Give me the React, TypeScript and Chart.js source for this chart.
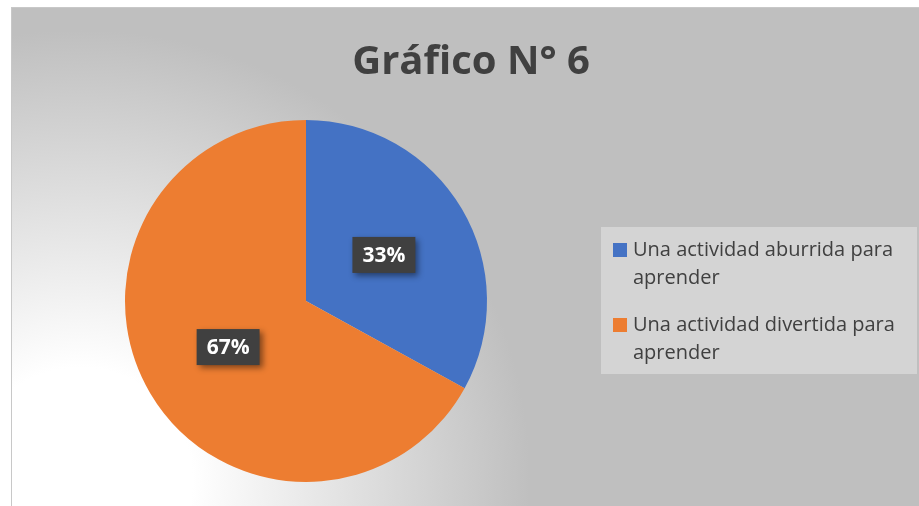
import React, { useEffect, useRef } from "react";
import { Chart, registerables } from "chart.js";

Chart.register(...registerables);

const title = "Gráfico N° 6";
const categories = ["Una actividad aburrida para aprender", "Una actividad divertida para aprender"];
const legendLines = [["Una actividad aburrida para", "aprender"], ["Una actividad divertida para", "aprender"]];
const values = [33, 67];
const valueLabels = ["33%", "67%"];
const colors = ["#4472C4", "#ED7D31"];

const W = 919;
const H = 506;

const bgPlugin = {
  id: "bgPlugin",
  beforeDraw(chart: any) {
    const ctx = chart.ctx;
    ctx.save();
    ctx.fillStyle = "#ffffff";
    ctx.fillRect(0, 0, W, H);
    const g = ctx.createRadialGradient(80, 480, 0, 80, 480, 450);
    g.addColorStop(0, "#ffffff");
    g.addColorStop(0.25, "#ffffff");
    g.addColorStop(1, "#bfbfbf");
    ctx.fillStyle = g;
    ctx.fillRect(12, 8, W - 12, H - 8);
    ctx.fillStyle = "#c8c8c8";
    ctx.fillRect(11, 7, W - 11, 1);
    ctx.fillRect(11, 7, 1, H - 7);
    // title
    ctx.fillStyle = "#404040";
    ctx.font = "bold 40px 'Open Sans', sans-serif";
    ctx.textAlign = "center";
    ctx.textBaseline = "alphabetic";
    ctx.fillText(title, 471, 74);
    ctx.restore();
  },
};

const overlayPlugin = {
  id: "overlayPlugin",
  afterDraw(chart: any) {
    const ctx = chart.ctx;
    ctx.save();
    // data labels
    const meta = chart.getDatasetMeta(0);
    meta.data.forEach((arc: any, i: number) => {
      const p = arc.tooltipPosition();
      ctx.font = "bold 21px 'Open Sans', sans-serif";
      const tw = ctx.measureText(valueLabels[i]).width;
      const bw = tw + 20;
      const bh = 36;
      const x = p.x - bw / 2;
      const y = p.y - bh / 2;
      ctx.save();
      ctx.shadowColor = "rgba(0,0,0,0.45)";
      ctx.shadowBlur = 6;
      ctx.shadowOffsetX = 3;
      ctx.shadowOffsetY = 3;
      ctx.fillStyle = "#404040";
      ctx.fillRect(x, y, bw, bh);
      ctx.restore();
      ctx.fillStyle = "#ffffff";
      ctx.textAlign = "center";
      ctx.textBaseline = "middle";
      ctx.fillText(valueLabels[i], p.x, p.y + 1);
    });
    // legend
    ctx.fillStyle = "#d4d4d4";
    ctx.fillRect(601, 227, 316, 147);
    ctx.font = "20px 'Open Sans', sans-serif";
    ctx.textAlign = "left";
    ctx.textBaseline = "middle";
    const tops = [250, 325];
    legendLines.forEach((lines, i) => {
      ctx.fillStyle = colors[i];
      ctx.fillRect(613, tops[i] - 7, 14, 14);
      ctx.fillStyle = "#404040";
      lines.forEach((ln, j) => {
        ctx.fillText(ln, 633, tops[i] + j * 28);
      });
    });
    ctx.restore();
  },
};

export default function App() {
  const ref = useRef<HTMLCanvasElement>(null);
  useEffect(() => {
    if (!ref.current) return;
    const chart = new Chart(ref.current, {
      type: "pie",
      data: {
        labels: categories,
        datasets: [
          {
            data: values,
            backgroundColor: colors,
            borderWidth: 0,
          },
        ],
      },
      options: {
        responsive: false,
        animation: false,
        layout: { padding: { left: 125, right: 432, top: 120, bottom: 24 } },
        plugins: {
          legend: { display: false },
          title: { display: false },
          tooltip: { enabled: false },
        },
      },
      plugins: [bgPlugin, overlayPlugin],
    });
    return () => chart.destroy();
  }, []);
  return (
    <div style={{ position: "fixed", left: 0, top: 0, width: W, height: H }}>
      <canvas ref={ref} width={W} height={H} style={{ display: "block" }} />
    </div>
  );
}
